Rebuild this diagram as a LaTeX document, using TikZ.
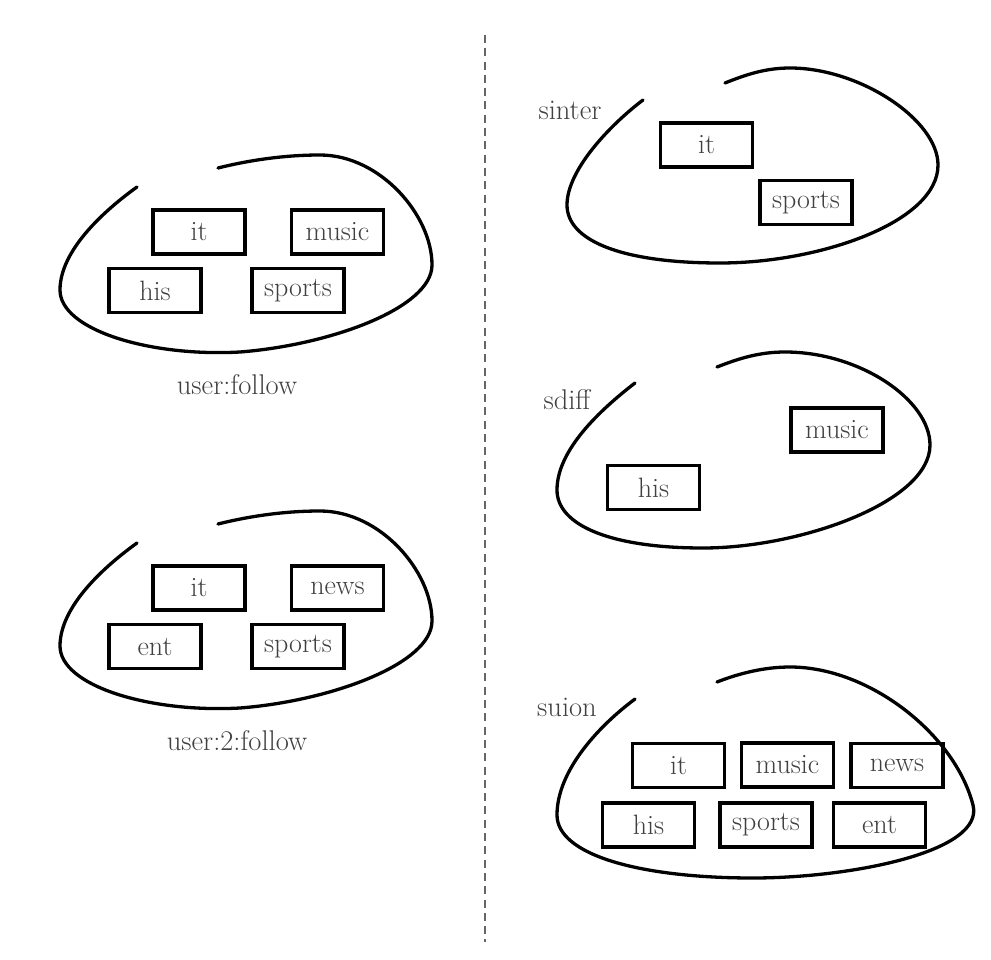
\documentclass[tikz,border=0pt]{standalone}
\usetikzlibrary{calc}
\definecolor{txt}{HTML}{404040}
\definecolor{divgray}{HTML}{666666}
\begin{document}
\begin{tikzpicture}[x=1pt,y=-1pt,
  tag/.style={draw=black, line width=3.2pt, minimum width=92pt, minimum height=44pt, inner sep=0pt, text=txt, font=\fontsize{28}{32}\selectfont},
  blob/.style={draw=black, line width=3.3pt, line cap=round},
  lbl/.style={text=txt, inner sep=0pt, font=\fontsize{28.5}{32}\selectfont}]
\useasboundingbox (0,0) rectangle (991,960);
\fill[white] (0,0) rectangle (991,960);
% divider
\coordinate (dtop) at (485,35);
\coordinate (dbot) at (485,942);
\draw[draw=divgray, line width=2.4pt, dash pattern=on 8pt off 5.3pt] (dtop) -- (dbot);

% panel 1: user:follow
\draw[blob] (218,168) .. controls (250,160) and (285,155) .. (320,155)
  .. controls (380,155) and (432,215) .. (432,265)
  .. controls (432,308) and (330,345) .. (240,352)
  .. controls (150,357) and (60,330) .. (60,290)
  .. controls (60,250) and (105,210) .. (137,187);
\node[tag] (a-it) at (199,232) {it};
\node[tag] (a-music) at (337.5,232) {music};
\node[tag] (a-his) at (155,290.5) {his};
\node[tag] (a-sports) at (298,290.5) {sports};
\node[lbl] (a-lbl) at (237,385) {user:follow};

% panel 2: user:2:follow
\draw[blob] (218,524) .. controls (250,516) and (285,511) .. (320,511)
  .. controls (380,511) and (432,571) .. (432,621)
  .. controls (432,664) and (330,701) .. (240,708)
  .. controls (150,713) and (60,686) .. (60,646)
  .. controls (60,606) and (105,566) .. (137,543);
\node[tag] (b-it) at (199,588) {it};
\node[tag] (b-news) at (337.5,588) {news};
\node[tag] (b-ent) at (155,646.5) {ent};
\node[tag] (b-sports) at (298,646.5) {sports};
\node[lbl] (b-lbl) at (237,741) {user:2:follow};

% sinter
\draw[blob] (725,83) .. controls (745,75) and (765,68) .. (790,68)
  .. controls (860,68) and (938,120) .. (938,165)
  .. controls (938,222) and (820,263) .. (720,263)
  .. controls (620,263) and (567,240) .. (567,205)
  .. controls (567,170) and (610,125) .. (643,100);
\node[tag] (c-it) at (706.5,145) {it};
\node[tag] (c-sports) at (806,202.5) {sports};
\node[lbl] (c-lbl) at (570,110) {sinter};

% sdiff
\draw[blob] (717,367) .. controls (740,358) and (760,352) .. (785,352)
  .. controls (860,352) and (930,400) .. (930,445)
  .. controls (930,502) and (800,548) .. (703,548)
  .. controls (610,548) and (557,525) .. (557,490)
  .. controls (557,450) and (600,410) .. (635,383);
\node[tag] (d-music) at (837,430) {music};
\node[tag] (d-his) at (653.5,487.5) {his};
\node[lbl] (d-lbl) at (567,400) {sdiff};

% suion
\node[tag] (e-it) at (678.5,765.5) {it};
\node[tag] (e-music) at (787.5,765) {music};
\node[tag] (e-news) at (897,765.5) {news};
\node[tag] (e-his) at (648.5,825) {his};
\node[tag] (e-sports) at (766,825) {sports};
\node[tag] (e-ent) at (879.5,825) {ent};
\draw[blob] (717,682) .. controls (740,673) and (765,667) .. (790,667)
  .. controls (870,667) and (955,735) .. (973,805)
  .. controls (985,852) and (850,878) .. (753,878)
  .. controls (640,878) and (557,855) .. (557,815)
  .. controls (557,770) and (600,725) .. (635,699);
\node[lbl] (e-lbl) at (567,707) {suion};
\end{tikzpicture}
\end{document}
